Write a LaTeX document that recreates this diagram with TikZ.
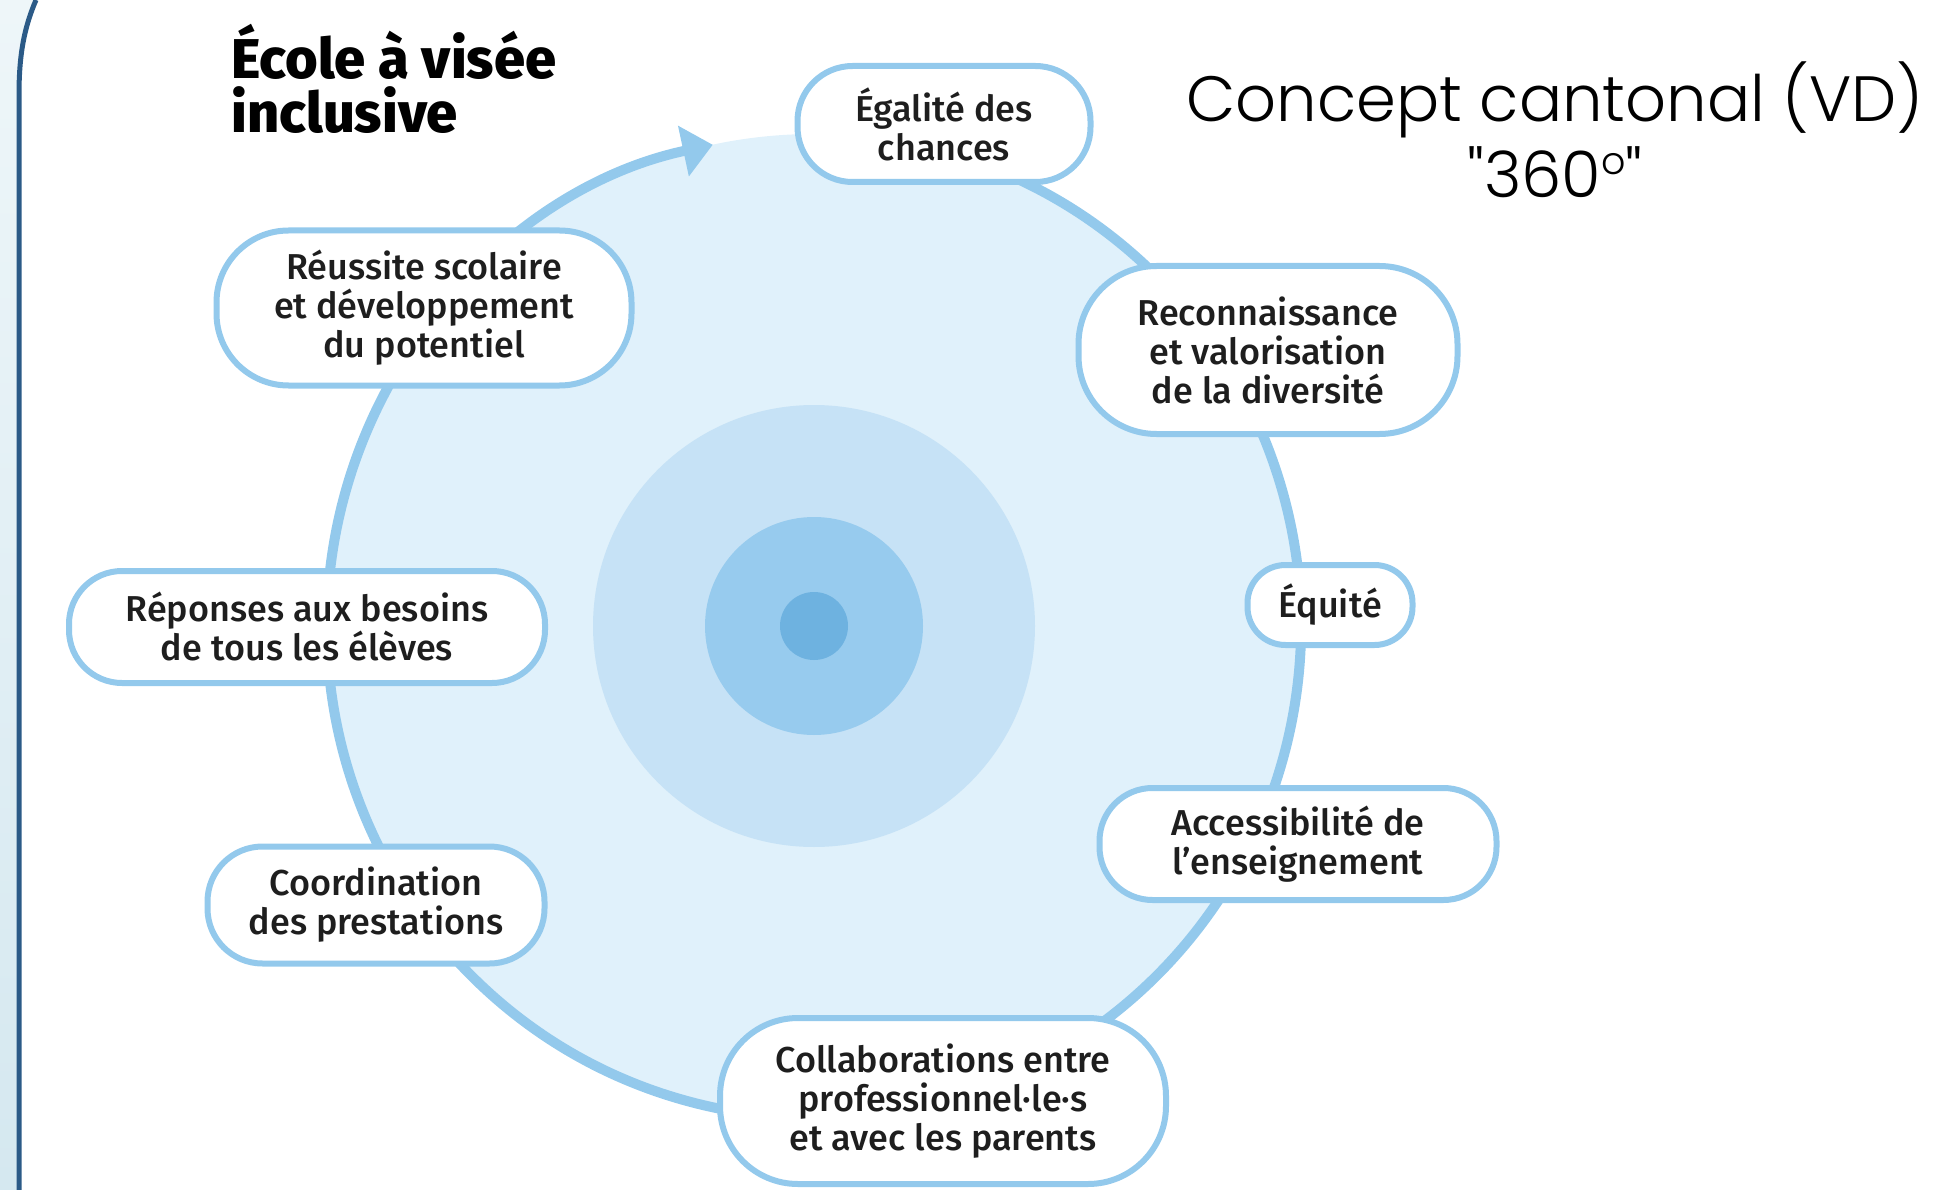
\documentclass[tikz,border=0pt]{standalone}
\usepackage{xcolor}
\usepackage{fontspec}
\usepackage{tikz}
\usetikzlibrary{arrows.meta}
\setmainfont{Fira Sans}
\IfFontExistsTF{Fira Sans Medium}{\newfontfamily\boxfont{Fira Sans Medium}}{%
  \IfFontExistsTF{FiraSans-Medium.otf}{\newfontfamily\boxfont{FiraSans-Medium.otf}}{\newfontfamily\boxfont{Fira Sans}[FakeBold=1.2]}}
\IfFontExistsTF{Fira Sans ExtraBold}{\newfontfamily\titlefont{Fira Sans ExtraBold}}{\newcommand\titlefont{\bfseries}}
\IfFontExistsTF{Poppins Light}{\newfontfamily\headfont{Poppins Light}[Ligatures=TeXOff]}{\newfontfamily\headfont{Poppins}[Ligatures=TeXOff]}
\definecolor{ringline}{HTML}{93C9EC}
\definecolor{discfill}{HTML}{E0F1FB}
\definecolor{ringfill}{HTML}{C6E2F6}
\definecolor{midfill}{HTML}{97CBEE}
\definecolor{corefill}{HTML}{6EB2E0}
\definecolor{frameblue}{HTML}{2B5A87}
\definecolor{stripTop}{HTML}{EEF6F9}
\definecolor{stripBot}{HTML}{D5E8F0}
\definecolor{textgray}{HTML}{1E1E1E}

\begin{document}
\begin{tikzpicture}[x=1pt,y=1pt,
    pill/.style={draw=ringline,line width=6pt,fill=white,align=center,inner sep=0pt,text=textgray,
      font=\boxfont\fontsize{36}{39}\selectfont}]
                    \useasboundingbox (0,0) rectangle (1933,-1190);
                    \fill[top color=stripTop,bottom color=stripBot] (0,0) -- (36,0) .. controls (24,-28) and (19,-55) .. (19,-95) -- (19,-1190) -- (0,-1190) -- cycle;
                    \draw[line width=5pt,frameblue] (36,0) .. controls (24,-28) and (19,-55) .. (19,-95) -- (19,-1190);

                    \coordinate (ctr) at (814,-626);
                    \fill[discfill] (ctr) ellipse [x radius=487,y radius=492];
                    \fill[ringfill] (ctr) circle [radius=221];
                    \fill[midfill] (ctr) circle [radius=109];
                    \fill[corefill] (ctr) circle [radius=34];
                    \draw[line width=10pt,ringline,-{Triangle[length=30pt,width=50pt]}] ([shift={(75:487 and 492)}]ctr) arc [start angle=75,end angle=-258,x radius=487,y radius=492];

                    \node[pill,minimum width=293pt,minimum height=116pt,rounded corners=55pt] (egalite) at (944,-124) {Égalité des\\chances};
                    \node[pill,minimum width=379pt,minimum height=168pt,rounded corners=78pt] (reconnaissance) at (1268,-350) {Reconnaissance\\et valorisation\\de la diversité};
                    \node[pill,minimum width=165pt,minimum height=80pt,rounded corners=38pt] (equite) at (1330,-605) {Équité};
                    \node[pill,minimum width=397pt,minimum height=112pt,rounded corners=53pt] (accessibilite) at (1298,-844) {Accessibilité de\\l’enseignement};
                    \node[pill,minimum width=446pt,minimum height=166pt,rounded corners=78pt] (collaborations) at (943,-1101) {Collaborations entre\\professionnel·le·s\\et avec les parents};
                    \node[pill,minimum width=337pt,minimum height=117pt,rounded corners=55pt] (coordination) at (376,-905) {Coordination\\des prestations};
                    \node[pill,minimum width=476pt,minimum height=112pt,rounded corners=53pt] (reponses) at (307,-627) {Réponses aux besoins\\de tous les élèves};
                    \node[pill,minimum width=415pt,minimum height=155pt,rounded corners=72pt] (reussite) at (424,-308) {Réussite scolaire\\et développement\\du potentiel};

                    \node[anchor=base west,align=left,font=\titlefont\fontsize{56}{54}\selectfont] (titre) at (228,-133) {École à visée\\inclusive};
                    \node[anchor=base,align=center,font=\headfont\fontsize{64}{76}\selectfont] (concept) at (1555,-198) {Concept cantonal (VD)\\"360\raisebox{23pt}{\fontsize{38}{38}\selectfont o}"};
                \end{tikzpicture}
\end{document}
